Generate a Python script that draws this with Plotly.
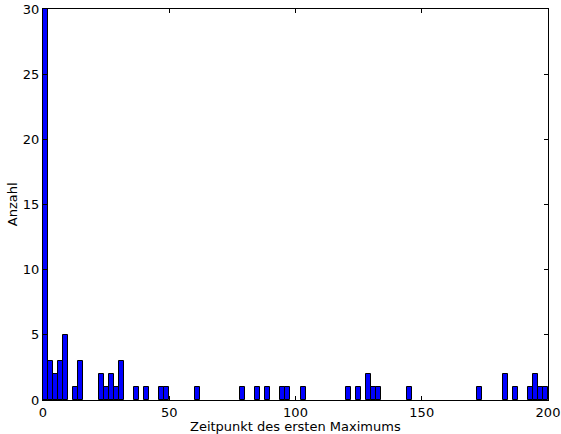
import plotly.graph_objects as go

bin_width = 2
bin_index = [0, 1, 2, 3, 4, 6, 7, 11, 12, 13, 14, 15, 18, 20, 23, 24, 30, 39, 42, 44,
             47, 48, 51, 60, 62, 64, 65, 66, 72, 86, 91, 93, 96, 97, 98, 99]
counts = [30, 3, 2, 3, 5, 1, 3, 2, 1, 2, 1, 3, 1, 1, 1, 1, 1, 1, 1, 1,
          1, 1, 1, 1, 1, 2, 1, 1, 1, 1, 2, 1, 1, 2, 1, 1]
x_ticks = [0, 50, 100, 150, 200]
y_ticks = [0, 5, 10, 15, 20, 25, 30]
x_title = "Zeitpunkt des ersten Maximums"
y_title = "Anzahl"

centers = [i * bin_width + bin_width / 2 for i in bin_index]

fig = go.Figure(go.Bar(
    x=centers, y=counts, width=bin_width,
    marker=dict(color="#0000ff", line=dict(color="black", width=1)),
))

font = dict(family="DejaVu Sans", size=13, color="black")
axis_common = dict(
    showline=True, linecolor="black", linewidth=1, mirror="all",
    ticks="inside", ticklen=4, tickcolor="black", showgrid=False, zeroline=False,
    tickfont=font, automargin=False,
)
fig.update_xaxes(range=[0, 200], tickvals=x_ticks, **axis_common)
fig.update_yaxes(range=[0, 30], tickvals=y_ticks, **axis_common)
fig.add_annotation(text=x_title, xref="paper", yref="paper", x=0.5, y=-0.069,
                   xanchor="center", yanchor="middle", showarrow=False, font=font)
fig.add_annotation(text=y_title, xref="paper", yref="paper", x=-0.06, y=0.5,
                   xanchor="center", yanchor="middle", showarrow=False, font=font,
                   textangle=-90)
fig.update_layout(
    width=561, height=434,
    margin=dict(l=43, r=13, t=9, b=34),
    paper_bgcolor="white", plot_bgcolor="white",
    showlegend=False, bargap=0,
)
fig.write_html("out.html", config={"displayModeBar": False},
               post_script="document.body.style.margin='0';document.body.style.overflow='hidden';")
